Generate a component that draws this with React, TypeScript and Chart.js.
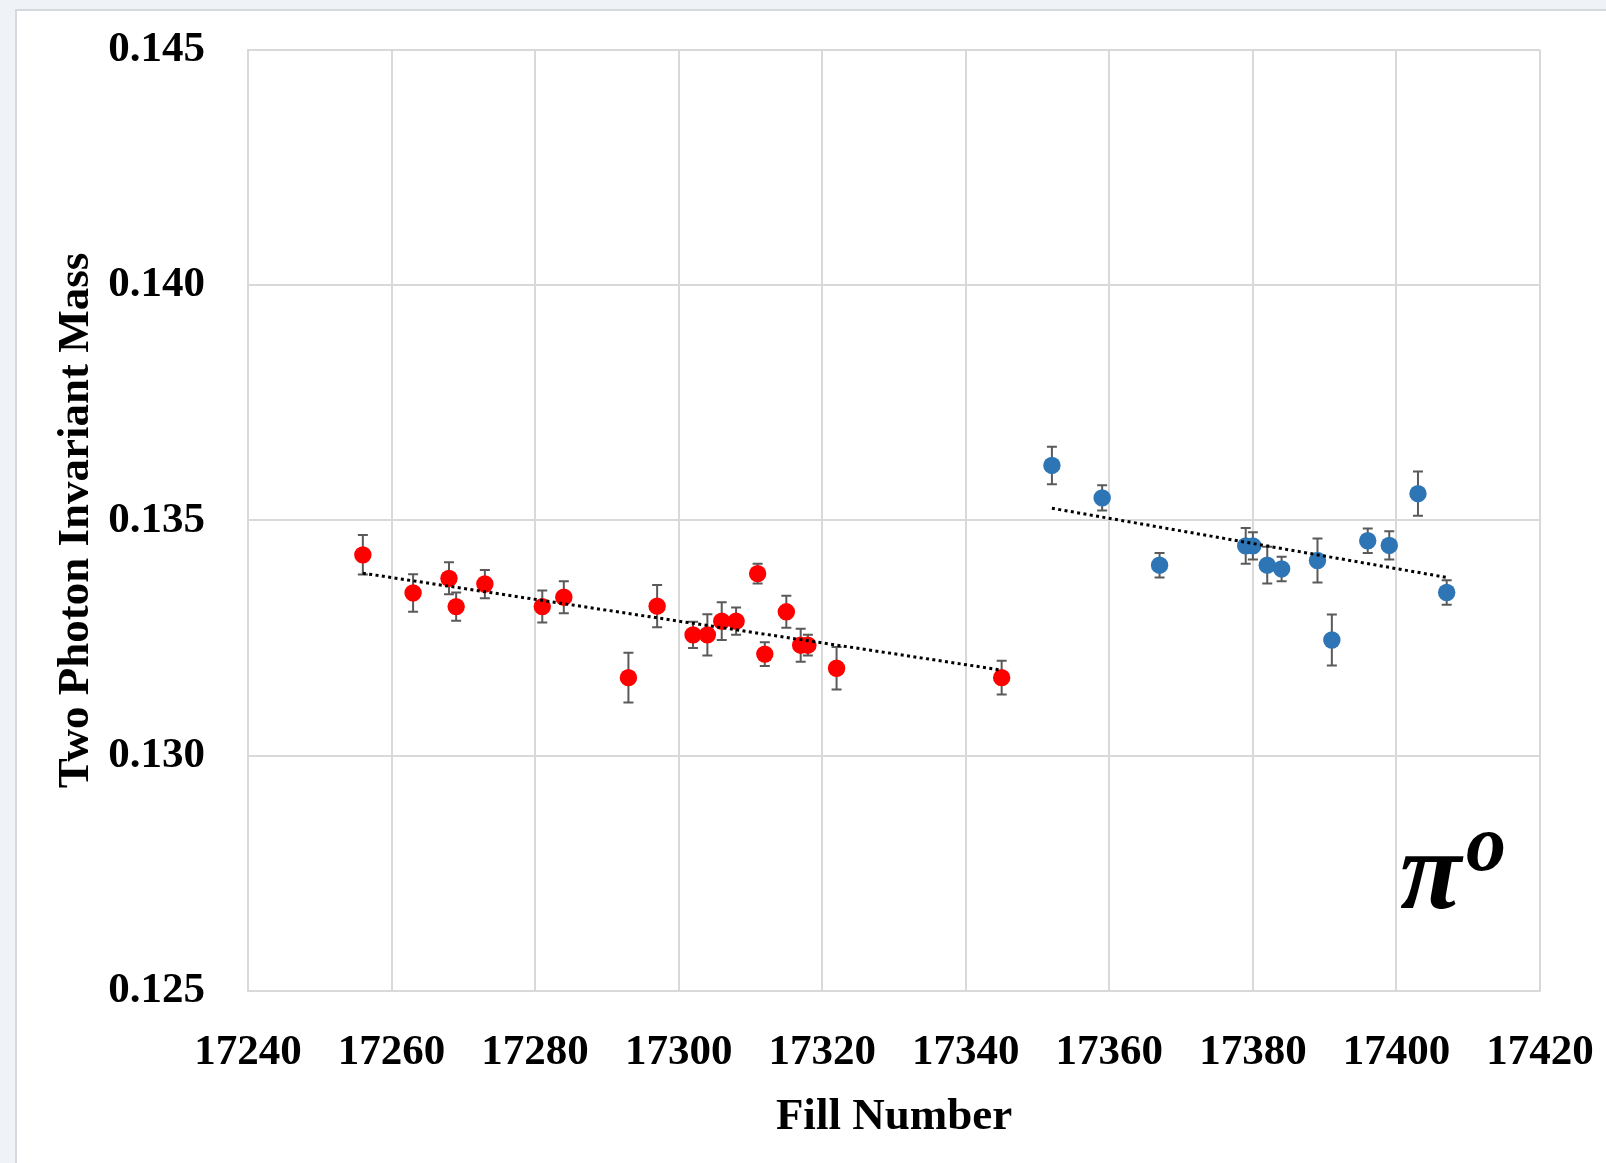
import React, { useEffect, useRef } from "react";
import { Chart, registerables } from "chart.js";

Chart.register(...registerables);

// ---- Data ----
const redFill = [17256, 17263, 17268, 17269, 17273, 17281, 17284, 17293, 17297, 17302, 17304, 17306, 17308, 17311, 17312, 17315, 17317, 17318, 17322, 17345];
const redMass = [0.13427, 0.13346, 0.13377, 0.13317, 0.13365, 0.13317, 0.13337, 0.13166, 0.13318, 0.13257, 0.13257, 0.13286, 0.13286, 0.13387, 0.13216, 0.13306, 0.13235, 0.13235, 0.13186, 0.13166];
const redErr = [0.00042, 0.0004, 0.00034, 0.0003, 0.0003, 0.00034, 0.00034, 0.00053, 0.00045, 0.00028, 0.00044, 0.0004, 0.00029, 0.00021, 0.00025, 0.00034, 0.00035, 0.00022, 0.00045, 0.00036];

const blueFill = [17352, 17359, 17367, 17379, 17380, 17382, 17384, 17389, 17391, 17396, 17399, 17403, 17407];
const blueMass = [0.13617, 0.13548, 0.13405, 0.13446, 0.13446, 0.13405, 0.13397, 0.13415, 0.13246, 0.13457, 0.13447, 0.13557, 0.13347];
const blueErr = [0.0004, 0.00027, 0.00026, 0.00038, 0.00029, 0.00039, 0.00026, 0.00047, 0.00054, 0.00026, 0.0003, 0.00047, 0.00026];

const redTrendFill = [17256, 17345];
const redTrendMass = [0.13388, 0.13182];
const blueTrendFill = [17352, 17407];
const blueTrendMass = [0.13526, 0.13379];

const xTicks = { min: 17240, max: 17420, step: 20 };
const yTicks = { min: 0.125, max: 0.145, step: 0.005 };

const xTitle = "Fill Number";
const yTitle = "Two Photon Invariant Mass";
const annotationMain = "π";
const annotationSup = "o";

const toPoints = (xs: number[], ys: number[]) => xs.map((x, i) => ({ x, y: ys[i] }));

const FONT = '"Liberation Serif", "Times New Roman", serif';

const errorBarPlugin = {
  id: "errorBars",
  beforeDatasetsDraw(chart: any) {
    const ctx = chart.ctx;
    const xs = chart.scales.x;
    const ys = chart.scales.y;
    ctx.save();
    ctx.strokeStyle = "#5a5a5a";
    ctx.lineWidth = 2;
    chart.data.datasets.forEach((ds: any) => {
      if (!ds.errors) return;
      ds.data.forEach((p: any, i: number) => {
        const e = ds.errors[i];
        const px = xs.getPixelForValue(p.x);
        const yTop = ys.getPixelForValue(p.y + e);
        const yBot = ys.getPixelForValue(p.y - e);
        ctx.beginPath();
        ctx.moveTo(px, yTop);
        ctx.lineTo(px, yBot);
        ctx.moveTo(px - 5, yTop);
        ctx.lineTo(px + 5, yTop);
        ctx.moveTo(px - 5, yBot);
        ctx.lineTo(px + 5, yBot);
        ctx.stroke();
      });
    });
    ctx.restore();
  },
};

const annotationPlugin = {
  id: "piAnnotation",
  afterDraw(chart: any) {
    const ctx = chart.ctx;
    const a = chart.chartArea;
    ctx.save();
    ctx.fillStyle = "#000";
    ctx.textBaseline = "alphabetic";
    ctx.textAlign = "left";
    ctx.font = `italic bold 112px ${FONT}`;
    ctx.fillText(annotationMain, a.right - 140, a.bottom - 83);
    ctx.font = `italic bold 80px ${FONT}`;
    ctx.fillText(annotationSup, a.right - 74, a.bottom - 121);
    ctx.restore();
  },
};

export default function App() {
  const canvasRef = useRef<HTMLCanvasElement | null>(null);

  useEffect(() => {
    if (!canvasRef.current) return;
    const chart = new Chart(canvasRef.current, {
      type: "scatter",
      data: {
        datasets: [
          {
            label: "trend red",
            type: "line",
            data: toPoints(redTrendFill, redTrendMass),
            borderColor: "#000",
            borderWidth: 3,
            borderDash: [3, 3.4],
            pointRadius: 0,
            fill: false,
            order: 0,
          } as any,
          {
            label: "trend blue",
            type: "line",
            data: toPoints(blueTrendFill, blueTrendMass),
            borderColor: "#000",
            borderWidth: 3,
            borderDash: [3, 3.4],
            pointRadius: 0,
            fill: false,
            order: 0,
          } as any,
          {
            label: "red",
            data: toPoints(redFill, redMass),
            errors: redErr,
            backgroundColor: "#ff0000",
            borderColor: "#ff0000",
            pointRadius: 8.7,
            pointBorderWidth: 0,
            order: 1,
          } as any,
          {
            label: "blue",
            data: toPoints(blueFill, blueMass),
            errors: blueErr,
            backgroundColor: "#2e75b6",
            borderColor: "#2e75b6",
            pointRadius: 8.7,
            pointBorderWidth: 0,
            order: 1,
          } as any,
        ],
      },
      options: {
        animation: false,
        responsive: false,
        layout: { padding: { top: 50, right: 66, left: 0, bottom: 0 } },
        plugins: {
          legend: { display: false },
          tooltip: { enabled: false },
        },
        scales: {
          x: {
            type: "linear",
            min: xTicks.min,
            max: xTicks.max,
            afterFit: (s: any) => {
              s.height = 172;
              s.paddingLeft = 0;
              s.paddingRight = 0;
            },
            ticks: {
              stepSize: xTicks.step,
              padding: 36,
              color: "#000",
              font: { family: FONT, size: 43, weight: "bold" },
              callback: (v: any) => String(v),
            },
            grid: { color: "#d9d9d9", lineWidth: 2, drawTicks: false },
            border: { color: "#d9d9d9", width: 2 },
            title: {
              display: true,
              text: xTitle,
              color: "#000",
              font: { family: FONT, size: 45, weight: "bold" },
              padding: { top: 0, bottom: 19 },
            },
          },
          y: {
            type: "linear",
            min: yTicks.min,
            max: yTicks.max,
            afterFit: (s: any) => {
              s.width = 248;
              s.paddingTop = 0;
              s.paddingBottom = 0;
            },
            ticks: {
              stepSize: yTicks.step,
              padding: 43,
              color: "#000",
              font: { family: FONT, size: 43, weight: "bold" },
              callback: (v: any) => Number(v).toFixed(3),
            },
            grid: { color: "#d9d9d9", lineWidth: 2, drawTicks: false },
            border: { color: "#d9d9d9", width: 2 },
            title: {
              display: true,
              text: yTitle,
              color: "#000",
              font: { family: FONT, size: 45, weight: "bold" },
              padding: { top: 49, bottom: 0 },
            },
          },
        },
      },
      plugins: [errorBarPlugin, annotationPlugin],
    });
    return () => chart.destroy();
  }, []);

  return (
    <div
      style={{
        position: "fixed",
        left: 0,
        top: 0,
        width: 1606,
        height: 1163,
        background: "#eff3f8",
        overflow: "hidden",
      }}
    >
      <div
        style={{
          position: "absolute",
          left: 15,
          top: 9,
          width: 1700,
          height: 1300,
          background: "#ffffff",
          borderLeft: "2px solid #d5d9de",
          borderTop: "2px solid #d5d9de",
        }}
      />
      <canvas
        ref={canvasRef}
        width={1606}
        height={1163}
        style={{ position: "absolute", left: 0, top: 0, width: 1606, height: 1163 }}
      />
    </div>
  );
}
